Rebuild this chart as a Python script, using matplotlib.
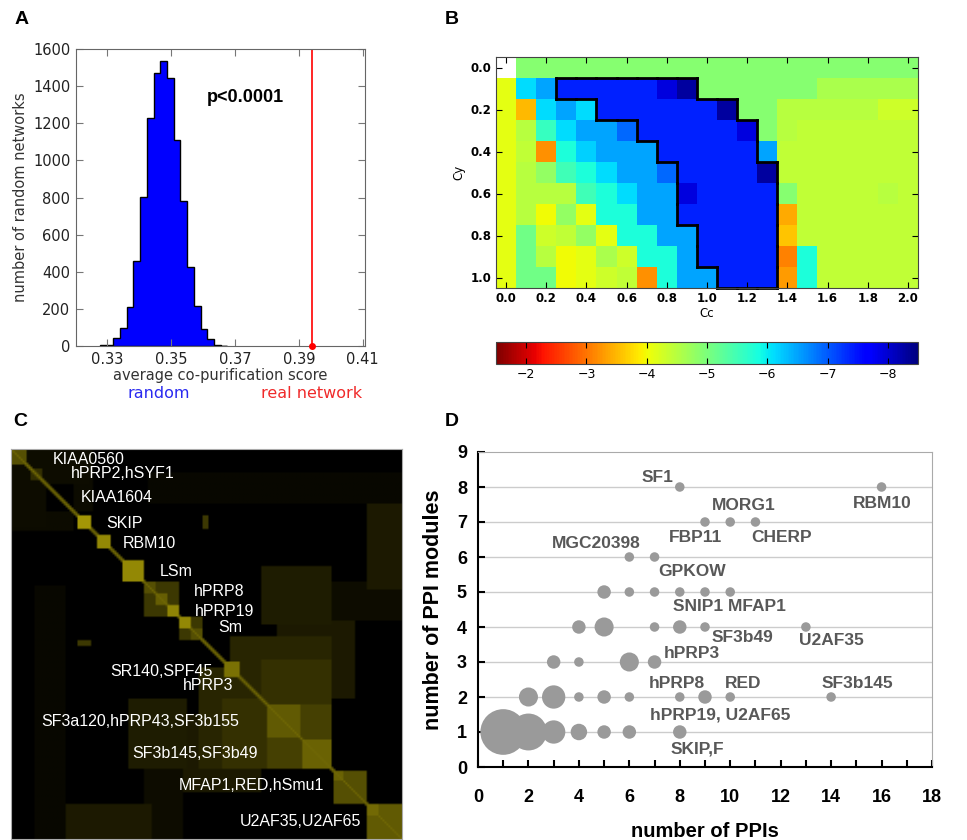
import numpy as np
import matplotlib
matplotlib.use('Agg')
import matplotlib.pyplot as plt
from matplotlib.colors import LinearSegmentedColormap
import matplotlib.ticker as mticker

# ---------------- Panel A data ----------------
hist_edges = [0.3277, 0.3298, 0.3319, 0.3340, 0.3361, 0.3382, 0.3403, 0.3424, 0.3445,
              0.3466, 0.3487, 0.3508, 0.3529, 0.3550, 0.3571, 0.3592, 0.3613, 0.3634,
              0.3655, 0.3676]
hist_counts = [3, 8, 45, 99, 212, 458, 804, 1226, 1472, 1535, 1445, 1108, 781, 427,
               217, 90, 36, 5, 2]
real_score = 0.3942
a_xticks = [0.33, 0.35, 0.37, 0.39, 0.41]
a_yticks = [0, 200, 400, 600, 800, 1000, 1200, 1400, 1600]

# ---------------- Panel B data ----------------
cc_values = [0.0, 0.1, 0.2, 0.3, 0.4, 0.5, 0.6, 0.7, 0.8, 0.9, 1.0,
             1.1, 1.2, 1.3, 1.4, 1.5, 1.6, 1.7, 1.8, 1.9, 2.0]
cy_values = [0.0, 0.1, 0.2, 0.3, 0.4, 0.5, 0.6, 0.7, 0.8, 0.9, 1.0]
nan = np.nan
b_row00 = [nan] + [-4.9] * 20
b_row01 = [-4.1, -6.1, -6.5, -7.4, -7.4, -7.4, -7.4, -7.4, -7.9, -8.3, -4.9, -4.9, -4.9, -4.9, -4.9, -4.9, -4.6, -4.6, -4.6, -4.6, -4.6]
b_row02 = [-4.1, -3.5, -6.1, -6.5, -6.1, -7.4, -7.4, -7.4, -7.4, -7.4, -7.4, -8.3, -4.9, -4.9, -4.5, -4.5, -4.5, -4.5, -4.5, -4.3, -4.3]
b_row03 = [-4.1, -4.5, -5.6, -6.1, -6.5, -6.5, -6.9, -7.4, -7.4, -7.4, -7.4, -7.4, -7.9, -4.9, -4.5, -4.4, -4.4, -4.4, -4.4, -4.4, -4.4]
b_row04 = [-4.1, -4.4, -3.2, -5.8, -6.2, -6.5, -6.5, -6.5, -7.4, -7.4, -7.4, -7.4, -7.4, -6.5, -4.4, -4.4, -4.4, -4.4, -4.4, -4.4, -4.4]
b_row05 = [-4.1, -4.5, -4.8, -5.5, -5.8, -6.1, -6.5, -6.5, -6.9, -7.4, -7.4, -7.4, -7.4, -8.3, -4.4, -4.4, -4.4, -4.4, -4.4, -4.4, -4.4]
b_row06 = [-4.1, -4.5, -4.5, -4.5, -5.5, -5.8, -6.1, -6.5, -6.5, -7.9, -7.4, -7.4, -7.4, -7.4, -4.9, -4.4, -4.4, -4.4, -4.4, -4.5, -4.4]
b_row07 = [-4.1, -4.5, -4.0, -4.8, -4.1, -5.8, -5.8, -6.5, -6.5, -7.4, -7.4, -7.4, -7.4, -7.4, -3.4, -4.4, -4.4, -4.4, -4.4, -4.4, -4.4]
b_row08 = [-4.1, -5.1, -4.3, -4.4, -4.8, -4.1, -5.8, -5.8, -6.5, -6.5, -7.4, -7.4, -7.4, -7.4, -3.6, -4.4, -4.4, -4.4, -4.4, -4.4, -4.4]
b_row09 = [-4.1, -5.1, -4.5, -4.0, -4.1, -4.6, -4.3, -5.8, -5.8, -6.5, -7.4, -7.4, -7.4, -7.4, -3.1, -5.8, -4.4, -4.4, -4.4, -4.4, -4.4]
b_row10 = [-4.1, -5.1, -5.1, -4.0, -4.1, -4.3, -4.4, -3.2, -5.8, -6.5, -6.5, -7.4, -7.4, -7.4, -3.3, -5.8, -4.4, -4.4, -4.4, -4.4, -4.4]
b_threshold = -7.2
b_cbar_ticks = [-2, -3, -4, -5, -6, -7, -8]

# ---------------- Panel C data (block structure, % of protein order) ----------------
c_blocks = [(0, 3.9, 0.42), (5.2, 7.8, 0.25), (17.0, 20.4, 0.8), (22.0, 25.5, 0.72),
            (28.7, 34.0, 0.72), (34.0, 43.2, 0.3), (34.0, 36.9, 0.42), (36.9, 39.9, 0.5),
            (39.9, 43.2, 0.7), (43.2, 48.8, 0.3), (43.2, 46.2, 0.72), (46.2, 48.8, 0.42),
            (54.6, 58.5, 0.6), (65.5, 73.8, 0.48), (74.5, 82.2, 0.52), (82.3, 91.0, 0.42),
            (82.3, 85.0, 0.52), (91.0, 100, 0.48), (91.0, 94.0, 0.56)]
c_offdiag = [(0, 9, 0, 20, 0.07), (16, 21, 0, 16, 0.06), (17, 20.4, 49, 50.5, 0.3),
             (18, 30, 91, 100, 0.08), (34, 44, 67, 100, 0.07), (48, 82, 56, 82, 0.2),
             (64, 82, 54, 66, 0.26), (65.5, 82.2, 65.5, 82.2, 0.34), (64, 82, 30, 45, 0.15),
             (91, 100, 14, 36, 0.14), (35, 100, 6, 14, 0.04), (44, 64, 68, 88, 0.14),
             (54, 80, 73, 82, 0.26)]
c_diag_level = 0.55
c_labels = ['KIAA0560', 'hPRP2,hSYF1', 'KIAA1604', 'SKIP', 'RBM10', 'LSm', 'hPRP8',
            'hPRP19', 'Sm', 'SR140,SPF45', 'hPRP3', 'SF3a120,hPRP43,SF3b155',
            'SF3b145,SF3b49', 'MFAP1,RED,hSmu1', 'U2AF35,U2AF65']
c_label_x = [42, 60, 70, 95, 112, 149, 183, 184, 207, 99, 172, 30, 121, 168, 229]
c_label_y = [10, 24, 48, 74, 94, 123, 143, 162, 179, 222, 237, 272, 305, 337, 373]

# ---------------- Panel D data ----------------
d_ppis = [1, 2, 3, 4, 5, 6, 8,
          2, 3, 4, 5, 6, 8, 9, 10, 14,
          3, 4, 6, 7,
          4, 5, 7, 8, 9, 13,
          5, 6, 7, 8, 9, 10,
          6, 7,
          9, 10, 11,
          8, 16]
d_modules = [1, 1, 1, 1, 1, 1, 1,
             2, 2, 2, 2, 2, 2, 2, 2, 2,
             3, 3, 3, 3,
             4, 4, 4, 4, 4, 4,
             5, 5, 5, 5, 5, 5,
             6, 6,
             7, 7, 7,
             8, 8]
d_counts = [23, 15, 6, 3, 2, 2, 2,
            4, 6, 1, 2, 1, 1, 2, 1, 1,
            2, 1, 4, 2,
            2, 4, 1, 2, 1, 1,
            2, 1, 1, 1, 1, 1,
            1, 1,
            1, 1, 1,
            1, 1]
d_labels = ['SF1', 'MORG1', 'RBM10', 'FBP11', 'CHERP', 'MGC20398', 'GPKOW',
            'SNIP1 MFAP1', 'SF3b49', 'U2AF35', 'hPRP3', 'hPRP8', 'RED', 'SF3b145',
            'hPRP19, U2AF65', 'SKIP,F']
d_label_x = [7.13, 10.52, 16.03, 8.62, 12.03, 4.69, 8.5, 9.97, 10.49, 14.0, 8.47,
             7.9, 10.53, 15.03, 9.59, 8.69]
d_label_y = [8.26, 7.48, 7.52, 6.55, 6.55, 6.4, 5.6, 4.59, 3.69, 3.62, 3.24, 2.4,
             2.4, 2.4, 1.5, 0.5]

# =====================================================================
fig = plt.figure(figsize=(9.67, 8.4), dpi=100)
W, H = 967, 840

def frac_axes(x0, y0, x1, y1):
    return fig.add_axes([x0 / W, 1 - y1 / H, (x1 - x0) / W, (y1 - y0) / H])

# ---------------- Panel A ----------------
axA = frac_axes(76, 49, 365, 346)
axA.hist(hist_edges[:-1], bins=hist_edges, weights=hist_counts, histtype='stepfilled',
         facecolor='#0000ff', edgecolor='black', linewidth=1.0)
axA.axvline(real_score, color='red', lw=1.2)
axA.plot([real_score], [0], 'o', color='red', ms=4, clip_on=False, zorder=5)
axA.set_xlim(0.3202, 0.4107)
axA.set_ylim(0, 1600)
axA.set_xticks(a_xticks)
axA.set_xticklabels(['%.2f' % v for v in a_xticks])
axA.set_yticks(a_yticks)
axA.tick_params(direction='in', top=True, right=True, labelsize=10.5, colors='#222222',
                length=5, color='#777777', pad=4)
for sp in axA.spines.values():
    sp.set_color('#666666')
axA.set_ylabel('number of random networks', fontsize=10.5, color='#333333')
axA.set_xlabel('average co-purification score', fontsize=10.5, color='#333333', labelpad=1)
axA.text(0.3611, 1339, 'p<0.0001', fontsize=13, fontweight='bold',
         family='Liberation Sans', va='center', ha='left')
fig.text(159 / W, 1 - 393 / H, 'random', color='#2a2af0', fontsize=11.5,
         ha='center', va='center')
fig.text(312 / W, 1 - 393 / H, 'real network', color='#f02a2a', fontsize=11.5,
         ha='center', va='center')

# ---------------- Panel B ----------------
axB = frac_axes(496, 57, 918, 288)
Z = np.array([b_row00, b_row01, b_row02, b_row03, b_row04, b_row05, b_row06,
              b_row07, b_row08, b_row09, b_row10], dtype=float)
cmap = plt.get_cmap('jet').copy()
cmap.set_bad('white')
im = axB.imshow(np.ma.masked_invalid(Z), cmap=cmap, vmin=-8.5, vmax=-1.5,
                extent=(-0.05, 2.05, 1.05, -0.05), aspect='auto', interpolation='nearest')
mask = np.nan_to_num(Z, nan=0.0) < b_threshold
nr, nc = mask.shape
dx = cc_values[1] - cc_values[0]
dy = cy_values[1] - cy_values[0]

def outside(ii, jj):
    return ii < 0 or jj < 0 or ii >= nr or jj >= nc or not mask[ii, jj]

for i in range(nr):
    for j in range(nc):
        if not mask[i, j]:
            continue
        xc, yc = cc_values[j], cy_values[i]
        kw = dict(color='black', lw=2, solid_capstyle='projecting', clip_on=False)
        if outside(i - 1, j):
            axB.plot([xc - dx / 2, xc + dx / 2], [yc - dy / 2, yc - dy / 2], **kw)
        if outside(i + 1, j):
            axB.plot([xc - dx / 2, xc + dx / 2], [yc + dy / 2, yc + dy / 2], **kw)
        if outside(i, j - 1):
            axB.plot([xc - dx / 2, xc - dx / 2], [yc - dy / 2, yc + dy / 2], **kw)
        if outside(i, j + 1):
            axB.plot([xc + dx / 2, xc + dx / 2], [yc - dy / 2, yc + dy / 2], **kw)
axB.set_xlim(-0.05, 2.05)
axB.set_ylim(1.05, -0.05)
axB.set_xticks(cc_values[::2])
axB.set_xticklabels(['%.1f' % v for v in cc_values[::2]])
axB.set_yticks(cy_values[::2])
axB.set_yticklabels(['%.1f' % v for v in cy_values[::2]])
axB.tick_params(direction='in', top=True, right=True, labelsize=8.5, length=4, pad=3)
for lab in axB.get_xticklabels() + axB.get_yticklabels():
    lab.set_fontweight('bold')
for sp in axB.spines.values():
    sp.set_color('#444444')
axB.set_xlabel('Cc', fontsize=8.5, labelpad=1)
axB.set_ylabel('Cy', fontsize=8.5, labelpad=4)

caxB = frac_axes(496, 342, 918, 364)
cb = fig.colorbar(im, cax=caxB, orientation='horizontal', ticks=b_cbar_ticks)
caxB.invert_xaxis()
caxB.tick_params(direction='in', top=True, labelsize=9, length=4, pad=3)
cb.outline.set_edgecolor('#444444')

# ---------------- Panel C ----------------
axC = frac_axes(11, 449, 402, 839)
N = 200
M = np.zeros((N, N))

def idx(p):
    return int(round(p / 100.0 * N))

for r0, r1, c0, c1, v in c_offdiag:
    a, b, c, d = idx(r0), idx(r1), idx(c0), idx(c1)
    M[a:b, c:d] = np.maximum(M[a:b, c:d], v)
    M[c:d, a:b] = np.maximum(M[c:d, a:b], v)
for s, e, v in c_blocks:
    a, b = idx(s), idx(e)
    M[a:b, a:b] = np.maximum(M[a:b, a:b], v)
for k in range(N):
    M[k, k] = max(M[k, k], c_diag_level)
    if k + 1 < N:
        M[k, k + 1] = max(M[k, k + 1], c_diag_level * 0.7)
        M[k + 1, k] = max(M[k + 1, k], c_diag_level * 0.7)
olive = LinearSegmentedColormap.from_list('olive', [(0.0, 0.0, 0.0), (0.80, 0.74, 0.03)])
axC.imshow(M, cmap=olive, vmin=0, vmax=1, extent=(0, 391, 390, 0), aspect='auto',
           interpolation='bilinear')
axC.set_xlim(0, 391)
axC.set_ylim(390, 0)
axC.set_xticks([])
axC.set_yticks([])
for sp in axC.spines.values():
    sp.set_color('#aaaaaa')
    sp.set_linewidth(0.8)
for lab, x, y in zip(c_labels, c_label_x, c_label_y):
    axC.text(x, y, lab, color='white', fontsize=11.5, family='Liberation Sans',
             ha='left', va='center')

# ---------------- Panel D ----------------
axD = frac_axes(478, 452, 932, 767)
for yv in range(1, 9):
    axD.axhline(yv, color='#cccccc', lw=1.0, zorder=0)
axD.scatter(d_ppis, d_modules, s=[47 * c for c in d_counts], color='#9a9a9a',
            edgecolors='none', zorder=3)
for lab, x, y in zip(d_labels, d_label_x, d_label_y):
    axD.text(x, y, lab, color='#585858', fontsize=12.5, fontweight='bold',
             family='Liberation Sans', ha='center', va='center', zorder=4)
axD.set_xlim(0, 18)
axD.set_ylim(0, 9)
axD.set_xticks(range(0, 19, 2))
axD.xaxis.set_minor_locator(mticker.MultipleLocator(1))
axD.set_yticks(range(0, 10))
axD.tick_params(axis='x', which='both', direction='in', length=5, width=1.5, pad=16)
axD.tick_params(axis='y', which='both', direction='in', length=5, width=1.5, pad=8)
for lab in axD.get_xticklabels() + axD.get_yticklabels():
    lab.set_fontweight('bold')
    lab.set_fontsize(13)
    lab.set_family('Liberation Sans')
axD.spines['left'].set_linewidth(1.5)
axD.spines['bottom'].set_linewidth(1.5)
axD.spines['top'].set_color('#aaaaaa')
axD.spines['right'].set_color('#aaaaaa')
axD.set_xlabel('number of PPIs', fontsize=14.5, fontweight='bold', family='Liberation Sans')
axD.set_ylabel('number of PPI modules', fontsize=15.5, fontweight='bold', family='Liberation Sans')
axD.xaxis.set_label_coords(0.5, -0.175)
axD.yaxis.set_label_coords(-0.075, 0.5)

# ---------------- Panel letters ----------------
for letter, x, y in [('A', 22, 20), ('B', 452, 20), ('C', 20, 422), ('D', 452, 422)]:
    fig.text(x / W, 1 - y / H, letter, fontsize=14, fontweight='bold',
             family='Liberation Sans', ha='center', va='center')

fig.savefig('out.png', dpi=100)
